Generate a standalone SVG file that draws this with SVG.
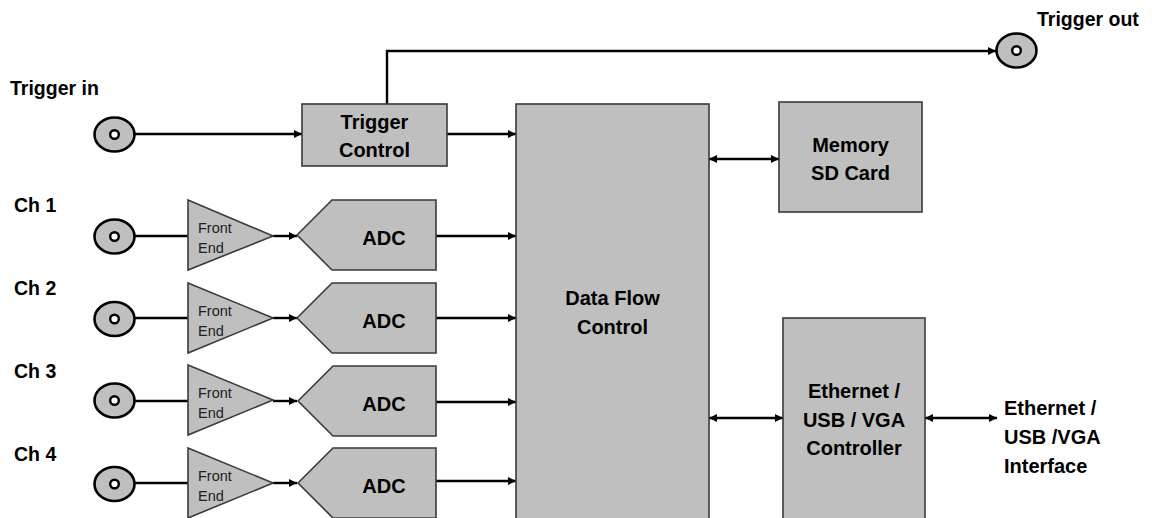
<svg xmlns="http://www.w3.org/2000/svg" width="1152" height="518" viewBox="0 0 1152 518">
<style>
.box{fill:#BFBFBF;stroke:#3a3a3a;stroke-width:1.6}
.conn{fill:#BFBFBF;stroke:#000;stroke-width:2.6}
.pin{fill:#fff;stroke:#000;stroke-width:2.4}
.ln{fill:none;stroke:#000;stroke-width:2.4}
.t{font-family:"Liberation Sans",Arial,sans-serif;font-weight:bold;font-size:20px;fill:#000}
.c{text-anchor:middle}
.lbl{font-family:"Liberation Sans",Arial,sans-serif;font-weight:bold;font-size:19.5px;fill:#000}
.fe{font-family:"Liberation Sans",Arial,sans-serif;font-size:14.5px;fill:#222}
</style>
<defs>
<marker id="ah" viewBox="0 0 10 10" refX="10" refY="5" markerWidth="9" markerHeight="8" markerUnits="userSpaceOnUse" orient="auto-start-reverse">
<path d="M0,0 L10,5 L0,10 z" fill="#000"/>
</marker>
</defs>
<rect width="1152" height="518" fill="#fff"/>

<g id="connectors">
<line class="ln" x1="135" y1="134" x2="302" y2="134" marker-end="url(#ah)"/>
<line class="ln" x1="447" y1="134" x2="516" y2="134" marker-end="url(#ah)"/>
<polyline class="ln" points="387,104 387,51 996,51" marker-end="url(#ah)"/>
<line class="ln" x1="709" y1="159" x2="779" y2="159" marker-start="url(#ah)" marker-end="url(#ah)"/>
<line class="ln" x1="709" y1="418" x2="783" y2="418" marker-start="url(#ah)" marker-end="url(#ah)"/>
<line class="ln" x1="925" y1="418" x2="997" y2="418" marker-start="url(#ah)" marker-end="url(#ah)"/>
<line class="ln" x1="135" y1="236" x2="188" y2="236"/>
<line class="ln" x1="135" y1="318" x2="188" y2="318"/>
<line class="ln" x1="135" y1="401" x2="188" y2="401"/>
<line class="ln" x1="135" y1="483" x2="188" y2="483"/>
<line class="ln" x1="273" y1="236" x2="297" y2="236" marker-end="url(#ah)"/>
<line class="ln" x1="273" y1="318" x2="297" y2="318" marker-end="url(#ah)"/>
<line class="ln" x1="273" y1="401" x2="297" y2="401" marker-end="url(#ah)"/>
<line class="ln" x1="273" y1="483" x2="297" y2="483" marker-end="url(#ah)"/>
<line class="ln" x1="436" y1="236" x2="516" y2="236" marker-end="url(#ah)"/>
<line class="ln" x1="436" y1="318" x2="516" y2="318" marker-end="url(#ah)"/>
<line class="ln" x1="436" y1="402" x2="516" y2="402" marker-end="url(#ah)"/>
<line class="ln" x1="436" y1="481" x2="516" y2="481" marker-end="url(#ah)"/>
</g>

<g id="trigger-in">
<text class="lbl" x="10" y="95">Trigger in</text>
<ellipse class="conn" cx="114.5" cy="134.5" rx="20" ry="17"/>
<circle class="pin" cx="114.5" cy="134.5" r="4.3"/>
</g>

<g id="trigger-out">
<text class="lbl" x="1037" y="26">Trigger out</text>
<ellipse class="conn" cx="1016.5" cy="50.5" rx="20" ry="17"/>
<circle class="pin" cx="1016.5" cy="50.5" r="4.3"/>
</g>

<g id="trigger-control">
<rect class="box" x="302" y="104" width="145" height="62"/>
<text class="t c" x="374.5" y="129">Trigger</text>
<text class="t c" x="374.5" y="157">Control</text>
</g>

<g id="data-flow-control">
<rect class="box" x="516" y="104" width="193" height="430"/>
<text class="t c" x="612.5" y="305">Data Flow</text>
<text class="t c" x="612.5" y="334">Control</text>
</g>

<g id="memory">
<rect class="box" x="779" y="102" width="143" height="110"/>
<text class="t c" x="850.5" y="152">Memory</text>
<text class="t c" x="850.5" y="180">SD Card</text>
</g>

<g id="eth-controller">
<rect class="box" x="783" y="318" width="142" height="220"/>
<text class="t c" x="854" y="398">Ethernet /</text>
<text class="t c" x="854" y="427">USB / VGA</text>
<text class="t c" x="854" y="455">Controller</text>
</g>

<g id="interface">
<text class="t" x="1004" y="415">Ethernet /</text>
<text class="t" x="1004" y="444">USB /VGA</text>
<text class="t" x="1004" y="473">Interface</text>
</g>

<g id="ch1">
<text class="lbl" x="14" y="212">Ch 1</text>
<ellipse class="conn" cx="114.5" cy="236.5" rx="20" ry="17"/>
<circle class="pin" cx="114.5" cy="236.5" r="4.3"/>
<polygon class="box" points="188,200 273,236 188,270"/>
<text class="fe" x="198" y="233">Front</text>
<text class="fe" x="198" y="253">End</text>
<polygon class="box" points="297,235 332,200 436,200 436,270 332,270"/>
<text class="t c" x="384" y="245">ADC</text>
</g>

<g id="ch2">
<text class="lbl" x="14" y="295">Ch 2</text>
<ellipse class="conn" cx="114.5" cy="319" rx="20" ry="17"/>
<circle class="pin" cx="114.5" cy="319" r="4.3"/>
<polygon class="box" points="188,283 273,318 188,353"/>
<text class="fe" x="198" y="316">Front</text>
<text class="fe" x="198" y="336">End</text>
<polygon class="box" points="297,318 332,283 436,283 436,353 332,353"/>
<text class="t c" x="384" y="328">ADC</text>
</g>

<g id="ch3">
<text class="lbl" x="14" y="378">Ch 3</text>
<ellipse class="conn" cx="114.5" cy="400.5" rx="20" ry="17"/>
<circle class="pin" cx="114.5" cy="400.5" r="4.3"/>
<polygon class="box" points="188,365 273,400 188,435"/>
<text class="fe" x="198" y="398">Front</text>
<text class="fe" x="198" y="418">End</text>
<polygon class="box" points="298,401 333,366 436,366 436,436 333,436"/>
<text class="t c" x="384" y="411">ADC</text>
</g>

<g id="ch4">
<text class="lbl" x="14" y="461">Ch 4</text>
<ellipse class="conn" cx="114.5" cy="484" rx="20" ry="17"/>
<circle class="pin" cx="114.5" cy="484" r="4.3"/>
<polygon class="box" points="188,448 273,483 188,518"/>
<text class="fe" x="198" y="481">Front</text>
<text class="fe" x="198" y="501">End</text>
<polygon class="box" points="298,483 333,448 436,448 436,518 333,518"/>
<text class="t c" x="384" y="493">ADC</text>
</g>
</svg>
